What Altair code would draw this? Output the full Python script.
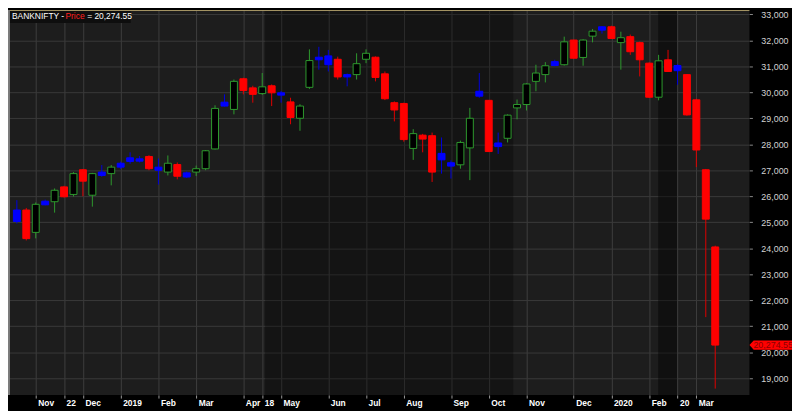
import altair as alt
import pandas as pd

# ---------------- data (weekly BANKNIFTY bars) ----------------
week_end = ["2018-10-19", "2018-10-26", "2018-11-02", "2018-11-09", "2018-11-16", "2018-11-22",
            "2018-11-30", "2018-12-07", "2018-12-14", "2018-12-21", "2018-12-28", "2019-01-04",
            "2019-01-11", "2019-01-18", "2019-01-25", "2019-02-01", "2019-02-08", "2019-02-15",
            "2019-02-22", "2019-03-01", "2019-03-08", "2019-03-15", "2019-03-22", "2019-03-29",
            "2019-04-05", "2019-04-12", "2019-04-18", "2019-04-26", "2019-05-03", "2019-05-10",
            "2019-05-17", "2019-05-24", "2019-05-31", "2019-06-07", "2019-06-14", "2019-06-21",
            "2019-06-28", "2019-07-05", "2019-07-12", "2019-07-19", "2019-07-26", "2019-08-02",
            "2019-08-09", "2019-08-16", "2019-08-23", "2019-08-30", "2019-09-06", "2019-09-13",
            "2019-09-20", "2019-09-27", "2019-10-04", "2019-10-11", "2019-10-18", "2019-10-25",
            "2019-11-01", "2019-11-08", "2019-11-15", "2019-11-22", "2019-11-29", "2019-12-06",
            "2019-12-13", "2019-12-20", "2019-12-27", "2020-01-03", "2020-01-10", "2020-01-17",
            "2020-01-24", "2020-02-01", "2020-02-07", "2020-02-14", "2020-02-20", "2020-02-28",
            "2020-03-06", "2020-03-13", "2020-03-20"]

opens = [25470, 25470, 24610, 25810, 25790, 26360, 26070, 27020, 26040, 26930,
         26870, 27270, 27480, 27440, 27530, 27120, 26930, 27220, 26900, 26930,
         27060, 27820, 29620, 29340, 30520, 30170, 29950, 30250, 29980, 29630,
         29000, 30190, 31350, 31400, 31270, 30680, 30680, 31270, 31350, 30710,
         29600, 29570, 27840, 28350, 28330, 27650, 27290, 27210, 27860, 30040,
         29690, 28050, 28230, 29400, 29530, 30420, 30680, 31180, 31060, 32010,
         31340, 32160, 32520, 32520, 31910, 32140, 31910, 31120, 29810, 31250,
         31030, 30680, 29710, 27020, 24050]
highs = [25850, 25550, 25760, 25870, 26300, 26400, 26930, 27050, 26900, 27200,
         27200, 27330, 27690, 27550, 27580, 27450, 27570, 27300, 26950, 27180,
         27780, 29500, 29920, 30490, 30560, 30250, 30740, 30300, 30050, 29790,
         29540, 31650, 31750, 31630, 31370, 30720, 31500, 31650, 31380, 30800,
         29650, 29600, 28580, 28400, 28450, 28260, 27380, 28140, 29400, 30740,
         29700, 28450, 29150, 29720, 30350, 31060, 31160, 31250, 32140, 32020,
         32040, 32430, 32550, 32560, 32330, 32220, 31950, 31150, 31440, 31630,
         31080, 30700, 29750, 27050, 24100]
lows = [24950, 24300, 24380, 25650, 25370, 25950, 25990, 26000, 25600, 26750,
        26420, 27050, 27250, 27300, 27000, 26450, 26800, 26650, 26700, 26780,
        27000, 27800, 29450, 29150, 29920, 29600, 29900, 29470, 29600, 28770,
        28520, 30130, 30870, 30800, 30490, 30230, 30490, 31120, 30420, 29700,
        28880, 28100, 27400, 27690, 26550, 26870, 26680, 27060, 26620, 29790,
        27700, 27630, 28070, 28960, 29300, 30040, 30380, 31000, 31030, 31300,
        31020, 31920, 32260, 32050, 30870, 31440, 30610, 29780, 29690, 30780,
        30290, 29100, 27120, 21350, 18600]
closes = [25030, 24370, 25690, 25670, 26230, 25980, 26870, 26580, 26870, 26800,
          27120, 27120, 27340, 27350, 27060, 27000, 27270, 26770, 26740, 27060,
          27750, 29380, 29470, 30420, 30070, 29920, 30210, 29980, 29890, 29030,
          29470, 31220, 31250, 31060, 30590, 30590, 31100, 31500, 30570, 29750,
          29320, 28180, 28410, 28200, 26930, 27400, 27160, 28070, 29000, 29850,
          27720, 27910, 29120, 29530, 30320, 30740, 31020, 31030, 31940, 31310,
          32010, 32350, 32390, 32070, 32100, 31560, 31250, 29810, 31210, 30800,
          30830, 29130, 27780, 25120, 20274.55]
kinds = ["flat", "down", "up", "flat", "up", "down", "up", "down", "up", "flat",
         "up", "flat", "flat", "flat", "down", "flat", "up", "down", "flat", "up",
         "up", "up", "flat", "up", "down", "down", "up", "down", "flat", "down",
         "up", "up", "flat", "flat", "down", "flat", "up", "up", "down", "down",
         "down", "down", "up", "down", "down", "flat", "flat", "up", "up", "flat",
         "down", "flat", "up", "up", "up", "up", "up", "flat", "up", "down",
         "up", "up", "flat", "down", "up", "down", "down", "down", "up", "down",
         "flat", "down", "down", "down", "down"]

tick_index = [2, 5, 7, 11, 15, 19, 24, 26, 28, 33, 37, 41, 46, 50, 54, 59, 63, 67, 70, 72]
tick_labels = ["Nov", "22", "Dec", "2019", "Feb", "Mar", "Apr", "18", "May", "Jun",
               "Jul", "Aug", "Sep", "Oct", "Nov", "Dec", "2020", "Feb", "20", "Mar"]
price_ticks = [19000, 20000, 21000, 22000, 23000, 24000, 25000, 26000,
               27000, 28000, 29000, 30000, 31000, 32000, 33000]

shade_start = [26.3, 67.95]
shade_end = [52.6, 69.95]
shade_alpha = [0.28, 0.42]

symbol = "BANKNIFTY"
last_price = closes[-1]
last_text = "20,274.55"

# ---------------- chart ----------------
W, H = 749, 389
FONT = "Liberation Sans"

df = pd.DataFrame({"i": list(range(len(opens))), "date": week_end, "open": opens,
                   "high": highs, "low": lows, "close": closes, "kind": kinds})
bands = pd.DataFrame({"s": shade_start, "e": shade_end, "a": shade_alpha})
last = pd.DataFrame({"c": [last_price], "t": [last_text]})
one = pd.DataFrame({"k": [0]})

xscale = alt.Scale(domain=[-0.414, 77.1], nice=False, zero=False)
yscale = alt.Scale(domain=[18350, 33164], nice=False, zero=False)

label_expr = ("[" + ",".join("'%s'" % t for t in tick_labels) + "][indexof(["
              + ",".join(str(v) for v in tick_index) + "], datum.value)]")

x_axis = alt.Axis(values=tick_index, labelExpr=label_expr, orient="bottom", grid=True,
                  gridColor="#3e3e3e", gridWidth=1, domain=False, ticks=True,
                  tickColor="#9a9a9a", tickSize=3, labelAlign="left", labelBaseline="top",
                  labelPadding=0, labelOffset=2, labelColor="#ffffff", labelFont=FONT,
                  labelFontSize=8.5, labelFontWeight="bold", labelOverlap=False,
                  labelFlush=False, title=None)
y_axis = alt.Axis(values=price_ticks, orient="right", format=",d", grid=True,
                  gridColor="#3a3a3a", gridWidth=1, domain=False, ticks=True,
                  tickColor="#8a8a8a", tickSize=3, labelAlign="right", labelBaseline="middle",
                  labelPadding=36, labelColor="#d2d2d2", labelFont=FONT, labelFontSize=9,
                  labelOverlap=False, labelFlush=False, title=None)

kind_dom = ["up", "down", "flat"]

shade = alt.Chart(bands).mark_rect(color="#000000").encode(
    x=alt.X("s:Q", scale=xscale, axis=x_axis),
    x2="e:Q",
    y=alt.value(0), y2=alt.value(H),
    opacity=alt.Opacity("a:Q", scale=None, legend=None),
)

base = alt.Chart(df)
wicks = base.mark_rule(strokeWidth=1).encode(
    x=alt.X("i:Q", scale=xscale, axis=x_axis),
    y=alt.Y("low:Q", scale=yscale, axis=y_axis),
    y2="high:Q",
    color=alt.Color("kind:N", scale=alt.Scale(domain=kind_dom,
                    range=["#2e9a2e", "#e00000", "#0000dd"]), legend=None),
)
bodies = base.mark_bar(width=7, strokeWidth=1).encode(
    x=alt.X("i:Q", scale=xscale, axis=x_axis),
    y=alt.Y("open:Q", scale=yscale, axis=y_axis),
    y2="close:Q",
    fill=alt.Fill("kind:N", scale=alt.Scale(domain=kind_dom,
                  range=["#000000", "#ff0000", "#0000ff"]), legend=None),
    stroke=alt.Stroke("kind:N", scale=alt.Scale(domain=kind_dom,
                      range=["#2e9a2e", "#ff0000", "#0000ff"]), legend=None),
)

top_line = alt.Chart(one).mark_rule(color="#a89866", strokeWidth=1).encode(
    x=alt.value(0), x2=alt.value(W), y=alt.value(0.5))
left_line = alt.Chart(one).mark_rule(color="#7c7c7c", strokeWidth=2).encode(
    x=alt.value(1), y=alt.value(0), y2=alt.value(H))

title_box = alt.Chart(one).mark_rect(color="#0e0e0e").encode(
    x=alt.value(2), x2=alt.value(124), y=alt.value(1), y2=alt.value(13))
t1 = alt.Chart(one).mark_text(align="left", baseline="top", font=FONT, fontSize=8.5,
                              color="#ffffff", text=symbol + " -").encode(
    x=alt.value(4), y=alt.value(2.5))
t2 = alt.Chart(one).mark_text(align="left", baseline="top", font=FONT, fontSize=8.5,
                              color="#ff2020", text="Price").encode(
    x=alt.value(58), y=alt.value(2.5))
t3 = alt.Chart(one).mark_text(align="left", baseline="top", font=FONT, fontSize=8.5,
                              color="#ffffff", text="= " + last_text).encode(
    x=alt.value(80), y=alt.value(2.5))

arrow = ("M -1 0 L -0.8 -0.22 L 1 -0.22 L 1 0.22 L -0.8 0.22 Z")
price_tag = alt.Chart(last).mark_point(shape=arrow, filled=True, size=43 * 43,
                                       color="#ff0000", opacity=1, strokeWidth=0).encode(
    x=alt.value(W + 21.5),
    y=alt.Y("c:Q", scale=yscale, axis=y_axis),
)
price_txt = alt.Chart(last).mark_text(align="left", baseline="middle", font=FONT,
                                      fontSize=9, color="#8a0000").encode(
    x=alt.value(W + 4),
    y=alt.Y("c:Q", scale=yscale, axis=y_axis),
    text="t:N",
)

chart = alt.layer(shade, wicks, bodies, top_line, left_line, title_box, t1, t2, t3,
                  price_tag, price_txt).properties(
    width=W, height=H,
    autosize=alt.AutoSizeParams(type="none"),
    padding={"left": 0, "top": 0, "right": 43, "bottom": 14},
    background="#000000",
).configure_view(fill="#1d1d1d", stroke=None)

chart.save("out.html", embed_options={"renderer": "svg", "actions": False})
